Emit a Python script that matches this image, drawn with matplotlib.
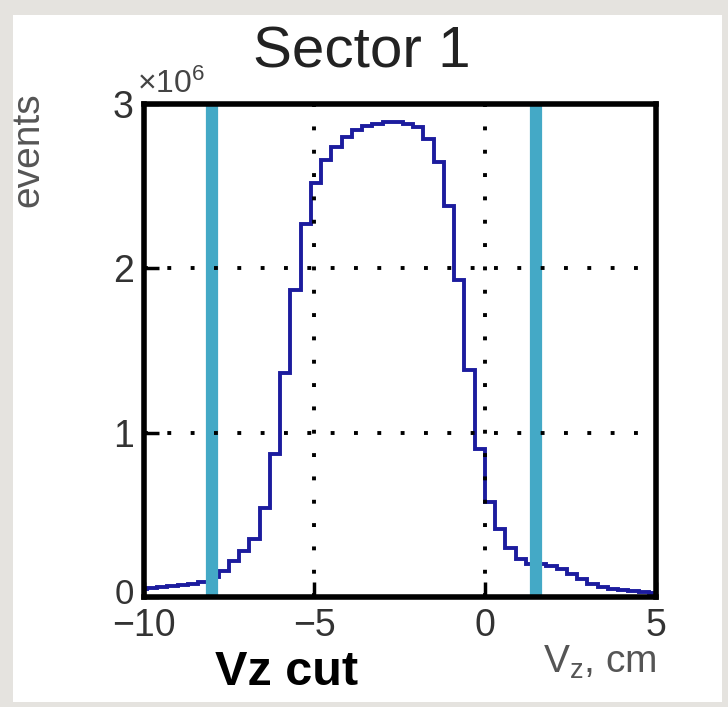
import numpy as np
import matplotlib
matplotlib.use("Agg")
import matplotlib.pyplot as plt
from matplotlib.patches import Rectangle
from matplotlib.transforms import ScaledTranslation

plt.rcParams['font.family'] = ['Liberation Sans', 'DejaVu Sans']
plt.rcParams['mathtext.fontset'] = 'custom'
plt.rcParams['mathtext.rm'] = 'Liberation Sans'
plt.rcParams['mathtext.it'] = 'Liberation Sans:italic'

# ---- data ----
title = "Sector 1"
bin_lo, bin_width, n_bins = -10.2, 0.3, 51
events_1e6 = [0.05, 0.055, 0.06, 0.065, 0.07, 0.08, 0.09, 0.12, 0.16, 0.22,
              0.28, 0.35, 0.54, 0.87, 1.36, 1.87, 2.27, 2.52, 2.66, 2.74,
              2.80, 2.84, 2.87, 2.88, 2.89, 2.89, 2.88, 2.86, 2.79, 2.65,
              2.38, 1.93, 1.38, 0.90, 0.58, 0.41, 0.30, 0.23, 0.20, 0.20,
              0.19, 0.17, 0.14, 0.11, 0.08, 0.06, 0.05, 0.04, 0.035, 0.03,
              0.025]
vz_cuts = [-8.0, 1.5]
x_ticks = [-10, -5, 0, 5]
y_ticks = [0, 1, 2, 3]

W, H = 728, 707
fig = plt.figure(figsize=(W / 100, H / 100), dpi=100, facecolor='#e5e3df')
# white panel
fig.patches.append(Rectangle((13 / W, 1 - 702 / H), (722 - 13) / W, (702 - 15) / H,
                             transform=fig.transFigure, facecolor='white',
                             edgecolor='none', zorder=-5))

x0, x1 = 143.6, 655.6
y0, y1 = 596.8, 104.2
ax = fig.add_axes([x0 / W, 1 - y0 / H, (x1 - x0) / W, (y0 - y1) / H])
ax.set_zorder(2)
ax.set_facecolor('white')

edges = bin_lo + bin_width * np.arange(n_bins + 1)
ax.stairs(events_1e6, edges, baseline=None, color='#1c1c9e', lw=2.8, zorder=2)

for c in vz_cuts:
    ax.axvline(c, color='#44a9c6', lw=8.8, zorder=2.4)

ax.set_xlim(-10, 5)
ax.set_ylim(0, 3)
ax.set_xticks(x_ticks)
ax.set_yticks(y_ticks)
ax.set_xticklabels([f"{t}".replace('-', '\u2212') for t in x_ticks])
ax.set_yticklabels([str(t) for t in y_ticks])
ax.tick_params(direction='in', length=11, width=2.5, labelsize=27,
               labelcolor='#333333')
ax.tick_params(axis='x', pad=8)
ax.tick_params(axis='y', pad=7)
ax.grid(True, color='black', lw=2.8, linestyle=(0, (1, 5.0)))
ax.set_axisbelow(False)
for s in ax.spines.values():
    s.set_linewidth(4)
    s.set_color('black')

# nudge the "0" y label up slightly so it just touches "−10" as in the reference
zero_tick = ax.yaxis.get_major_ticks()[0]
zero_tick.label1.set_transform(zero_tick.label1.get_transform() +
                               ScaledTranslation(0, 4 / 72, fig.dpi_scale_trans))
zero_tick.label1.set_fontsize(25)

# texts
fig.text(362 / W, 1 - 68 / H, title, fontsize=42, ha='center', va='baseline',
         color='#222222')
fig.text(137 / W, 1 - 93 / H, r'$\mathregular{\times10^{6}}$', fontsize=23,
         ha='left', va='baseline', color='#444444')
fig.text(46 / W, 1 - 150 / H, 'events', fontsize=28, rotation=90, ha='right',
         va='center', color='#555555')
fig.text(657 / W, 1 - 673 / H, r'$\mathregular{V_{z}}$, cm', fontsize=28,
         ha='right', va='baseline', color='#555555')
fig.text(215 / W, 1 - 685 / H, 'Vz cut', fontsize=35, fontweight='bold',
         ha='left', va='baseline', color='black')

fig.savefig('out.png', dpi=100, facecolor=fig.get_facecolor())
